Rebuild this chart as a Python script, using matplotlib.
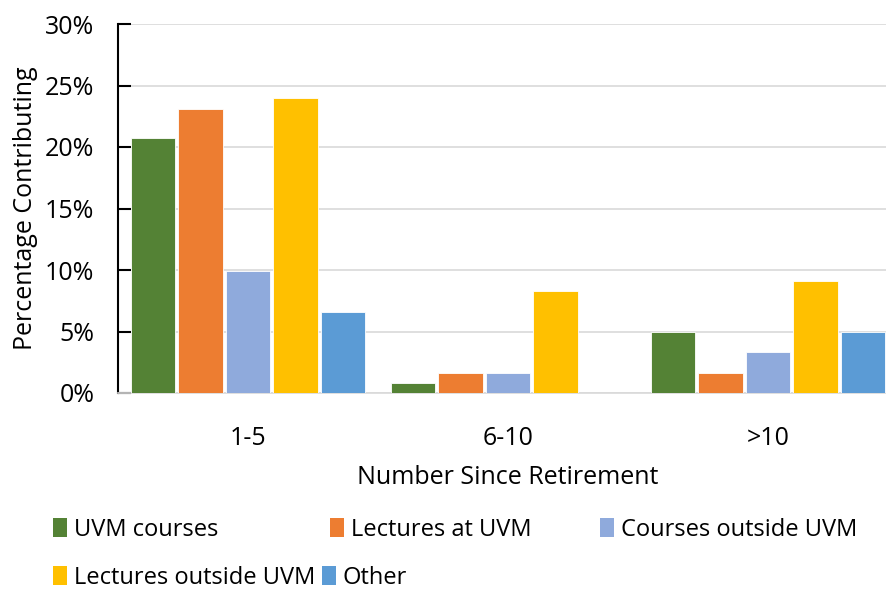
import numpy as np
import matplotlib.pyplot as plt
import matplotlib as mpl
from matplotlib.patches import Patch

categories = ['1-5', '6-10', '>10']
series = ['UVM courses', 'Lectures at UVM', 'Courses outside UVM',
          'Lectures outside UVM', 'Other']
values = {
    'UVM courses': [20.7, 0.8, 5.0],
    'Lectures at UVM': [23.1, 1.65, 1.65],
    'Courses outside UVM': [9.9, 1.65, 3.3],
    'Lectures outside UVM': [24.0, 8.3, 9.1],
    'Other': [6.6, 0.0, 5.0],
}
colors = ['#548235', '#ED7D31', '#8FAADC', '#FFC000', '#5B9BD5']
yticks = [0, 5, 10, 15, 20, 25, 30]

mpl.rcParams['font.family'] = ['Open Sans', 'DejaVu Sans']
fs = 18

W, H = 887, 593
fig = plt.figure(figsize=(W / 100, H / 100), dpi=100)
ax = fig.add_axes([118 / W, 1 - 393 / H, 780 / W, 369 / H])

x = np.arange(len(categories))
pitch = 0.183
w = 0.170
for i, s in enumerate(series):
    ax.bar(x + (i - 2) * pitch, values[s], width=w, color=colors[i],
           edgecolor='white', linewidth=0.6, zorder=3)

ax.set_xlim(-0.5, 2.5)
ax.set_ylim(0, 30)
ax.set_yticks(yticks)
ax.set_yticklabels([f'{t}%' for t in yticks])
ax.set_xticks(x)
ax.set_xticklabels(categories)
ax.grid(axis='y', color='#D9D9D9', linewidth=1.2, zorder=0)
for sp in ['top', 'right']:
    ax.spines[sp].set_visible(False)
ax.spines['left'].set_color('black')
ax.spines['left'].set_linewidth(1.5)
ax.spines['bottom'].set_color('#D9D9D9')
ax.spines['bottom'].set_linewidth(1.2)
ax.tick_params(axis='y', direction='in', length=9, width=1.5, labelsize=fs, pad=17)
ax.tick_params(axis='x', length=0, labelsize=fs, pad=24)
ax.set_ylabel('Percentage Contributing', fontsize=fs, labelpad=5)
ax.set_xlabel('Number Since Retirement', fontsize=fs, labelpad=10)

# legend entries laid out like Excel: equal-width columns, row by row
legend_pos = [(53, 530), (330, 530), (600, 530), (53, 578), (322, 578)]
for i, s in enumerate(series):
    px, py = legend_pos[i]
    fig.legend([Patch(facecolor=colors[i])], [s], loc='center left',
               bbox_to_anchor=(px / W, 1 - py / H), frameon=False,
               fontsize=17, handlelength=0.58, handleheight=0.85,
               handletextpad=0.3, borderpad=0, borderaxespad=0)

fig.savefig('out.png', dpi=100)
